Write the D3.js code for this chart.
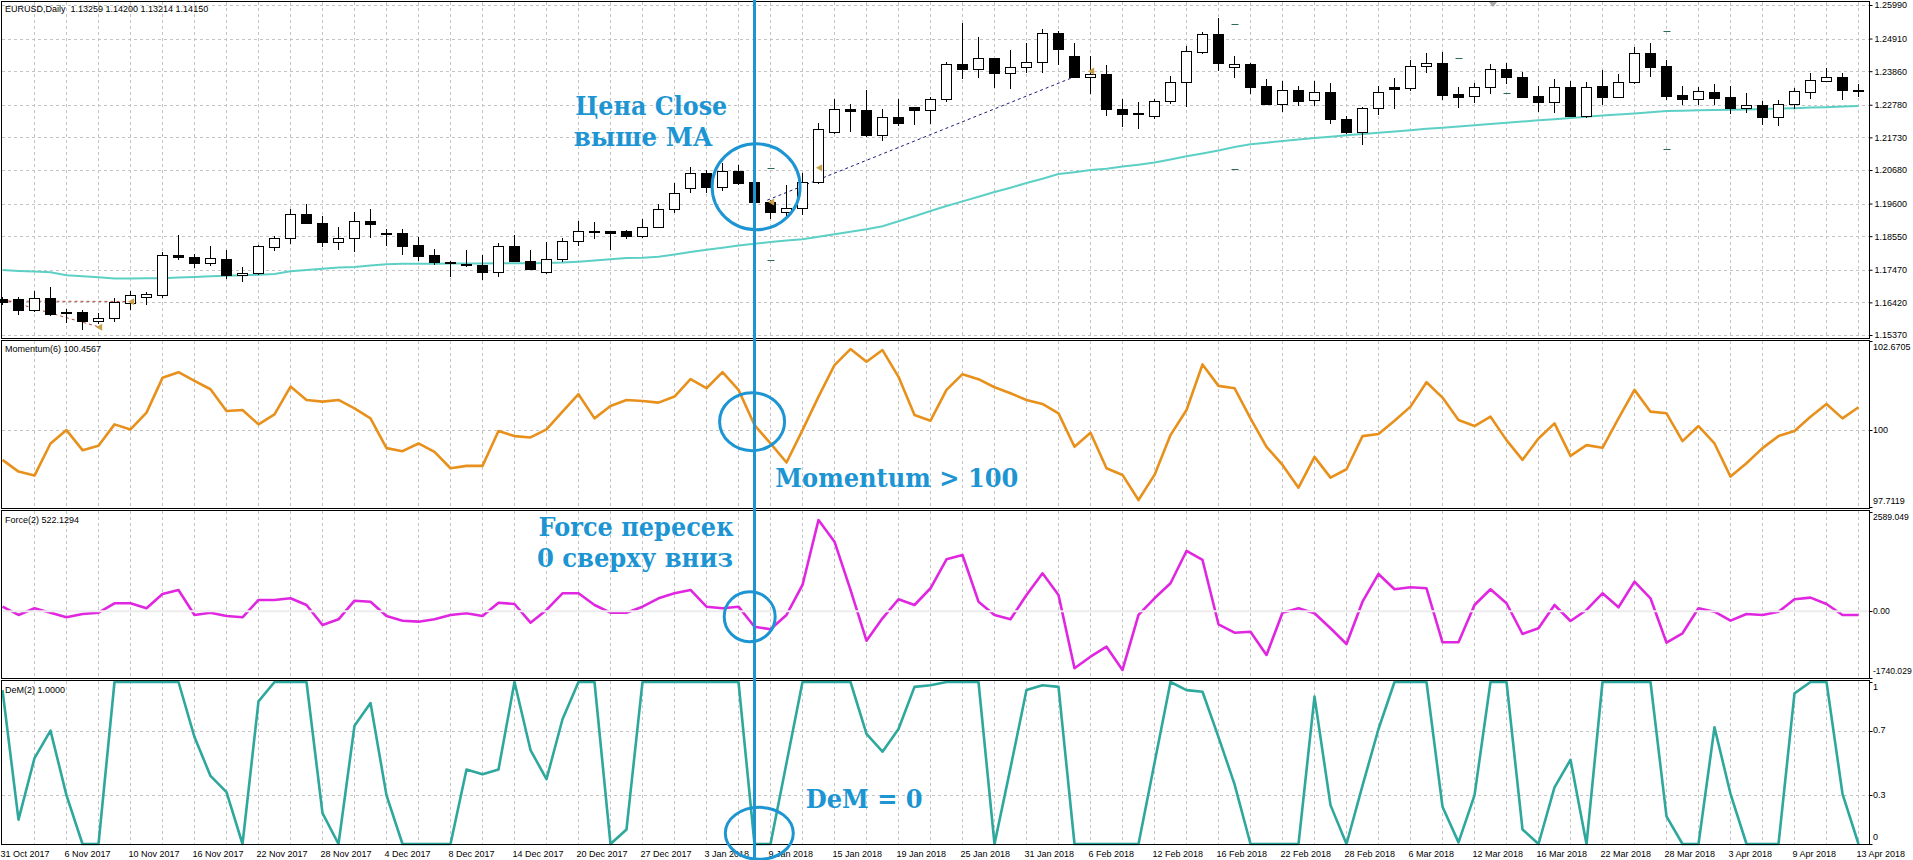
<!DOCTYPE html>
<html>
<head>
<meta charset="utf-8">
<script src="https://cdn.jsdelivr.net/npm/d3@7/dist/d3.min.js"></script>
<style>
    body { margin: 0; background: #fff; }
    svg text { font-family: "Liberation Sans", Arial, sans-serif; font-size: 9px; fill: #000; }
    .grid { stroke: #c4c4c4; stroke-dasharray: 3, 3; stroke-width: 1; shape-rendering: crispEdges; }
    .frame { fill: none; stroke: #000; stroke-width: 1; shape-rendering: crispEdges; }
    .note { font-family: "DejaVu Serif", serif; font-weight: bold; font-size: 26px; fill: #1d95d2; }
    .note-shape { fill: none; stroke: #1d95d2; stroke-width: 3; }
</style>
</head>
<body>
<div id="chart"></div>
<script>
const dateLabels = ["31 Oct 2017", "6 Nov 2017", "10 Nov 2017", "16 Nov 2017", "22 Nov 2017", "28 Nov 2017",
    "4 Dec 2017", "8 Dec 2017", "14 Dec 2017", "20 Dec 2017", "27 Dec 2017", "3 Jan 2018", "9 Jan 2018",
    "15 Jan 2018", "19 Jan 2018", "25 Jan 2018", "31 Jan 2018", "6 Feb 2018", "12 Feb 2018", "16 Feb 2018",
    "22 Feb 2018", "28 Feb 2018", "6 Mar 2018", "12 Mar 2018", "16 Mar 2018", "22 Mar 2018", "28 Mar 2018",
    "3 Apr 2018", "9 Apr 2018", "13 Apr 2018"];
const barsPerLabel = 4;

const open = [1.1652, 1.1652, 1.1617, 1.1655, 1.1610, 1.1610, 1.1583, 1.1593, 1.1640, 1.1658,
    1.1665, 1.1796, 1.1788, 1.1769, 1.1783, 1.1729, 1.1737, 1.1821, 1.1848, 1.1925,
    1.1896, 1.1835, 1.1848, 1.1904, 1.1864, 1.1864, 1.1826, 1.1794, 1.1772, 1.1767,
    1.1762, 1.1740, 1.1824, 1.1776, 1.1740, 1.1780, 1.1839, 1.1872, 1.1871, 1.1871,
    1.1856, 1.1885, 1.1941, 1.2009, 1.2057, 1.2014, 1.2065, 1.2028, 1.1966, 1.1933,
    1.1947, 1.2030, 1.2191, 1.2265, 1.2261, 1.2180, 1.2237, 1.2270, 1.2261, 1.2296,
    1.2409, 1.2392, 1.2427, 1.2381, 1.2400, 1.2414, 1.2508, 1.2435, 1.2366, 1.2377,
    1.2263, 1.2249, 1.2242, 1.2290, 1.2350, 1.2449, 1.2505, 1.2400, 1.2409, 1.2338,
    1.2282, 1.2327, 1.2293, 1.2318, 1.2232, 1.2191, 1.2266, 1.2334, 1.2333, 1.2403,
    1.2411, 1.2311, 1.2307, 1.2334, 1.2392, 1.2366, 1.2306, 1.2286, 1.2334, 1.2242,
    1.2338, 1.2304, 1.2350, 1.2443, 1.2402, 1.2309, 1.2298, 1.2318, 1.2302, 1.2268,
    1.2276, 1.2239, 1.2279, 1.2318, 1.2353, 1.2366, 1.2326];
const high = [1.1660, 1.1660, 1.1678, 1.1692, 1.1622, 1.1617, 1.1608, 1.1655, 1.1678, 1.1676,
    1.1805, 1.1860, 1.1799, 1.1823, 1.1810, 1.1756, 1.1826, 1.1855, 1.1944, 1.1960,
    1.1920, 1.1883, 1.1933, 1.1941, 1.1877, 1.1877, 1.1851, 1.1815, 1.1776, 1.1812,
    1.1794, 1.1832, 1.1860, 1.1812, 1.1837, 1.1848, 1.1903, 1.1901, 1.1871, 1.1874,
    1.1910, 1.1958, 1.2027, 1.2078, 1.2068, 1.2089, 1.2084, 1.2035, 1.1973, 1.2019,
    1.2057, 1.2218, 1.2295, 1.2282, 1.2325, 1.2263, 1.2295, 1.2270, 1.2304, 1.2416,
    1.2540, 1.2495, 1.2427, 1.2454, 1.2477, 1.2521, 1.2516, 1.2476, 1.2435, 1.2406,
    1.2295, 1.2286, 1.2298, 1.2370, 1.2467, 1.2511, 1.2556, 1.2435, 1.2413, 1.2360,
    1.2354, 1.2338, 1.2354, 1.2347, 1.2241, 1.2271, 1.2338, 1.2363, 1.2422, 1.2445,
    1.2449, 1.2334, 1.2347, 1.2409, 1.2411, 1.2384, 1.2338, 1.2361, 1.2354, 1.2350,
    1.2390, 1.2377, 1.2465, 1.2476, 1.2422, 1.2338, 1.2334, 1.2345, 1.2338, 1.2315,
    1.2290, 1.2293, 1.2331, 1.2381, 1.2395, 1.2381, 1.2345];
const low = [1.1638, 1.1606, 1.1615, 1.1601, 1.1580, 1.1555, 1.1576, 1.1583, 1.1622, 1.1636,
    1.1658, 1.1783, 1.1756, 1.1762, 1.1719, 1.1711, 1.1733, 1.1810, 1.1834, 1.1896,
    1.1823, 1.1815, 1.1808, 1.1851, 1.1828, 1.1799, 1.1778, 1.1767, 1.1726, 1.1759,
    1.1716, 1.1726, 1.1776, 1.1748, 1.1737, 1.1776, 1.1828, 1.1848, 1.1815, 1.1848,
    1.1853, 1.1885, 1.1933, 1.1998, 1.1998, 1.2005, 1.2022, 1.1961, 1.1912, 1.1920,
    1.1928, 1.2027, 1.2186, 1.2194, 1.2177, 1.2166, 1.2213, 1.2216, 1.2220, 1.2291,
    1.2363, 1.2368, 1.2334, 1.2333, 1.2384, 1.2384, 1.2408, 1.2366, 1.2315, 1.2245,
    1.2209, 1.2204, 1.2234, 1.2284, 1.2274, 1.2443, 1.2390, 1.2368, 1.2317, 1.2280,
    1.2258, 1.2277, 1.2277, 1.2220, 1.2188, 1.2151, 1.2248, 1.2268, 1.2327, 1.2384,
    1.2296, 1.2271, 1.2288, 1.2315, 1.2347, 1.2302, 1.2259, 1.2255, 1.2242, 1.2239,
    1.2282, 1.2304, 1.2349, 1.2370, 1.2296, 1.2280, 1.2282, 1.2280, 1.2253, 1.2255,
    1.2216, 1.2213, 1.2266, 1.2300, 1.2353, 1.2296, 1.2306];
const close = [1.1644, 1.1619, 1.1655, 1.1606, 1.1609, 1.1583, 1.1593, 1.1642, 1.1665, 1.1668,
    1.1796, 1.1788, 1.1769, 1.1786, 1.1729, 1.1738, 1.1823, 1.1848, 1.1928, 1.1896,
    1.1837, 1.1848, 1.1904, 1.1893, 1.1862, 1.1824, 1.1792, 1.1772, 1.1771, 1.1762,
    1.1740, 1.1824, 1.1776, 1.1751, 1.1780, 1.1839, 1.1871, 1.1873, 1.1864, 1.1856,
    1.1885, 1.1941, 1.1994, 1.2057, 1.2014, 1.2065, 1.2027, 1.1966, 1.1933, 1.1947,
    1.2030, 1.2199, 1.2263, 1.2259, 1.2180, 1.2237, 1.2220, 1.2261, 1.2298, 1.2409,
    1.2392, 1.2427, 1.2381, 1.2400, 1.2414, 1.2508, 1.2456, 1.2366, 1.2377, 1.2263,
    1.2247, 1.2250, 1.2290, 1.2350, 1.2451, 1.2505, 1.2411, 1.2409, 1.2336, 1.2280,
    1.2327, 1.2291, 1.2318, 1.2231, 1.2191, 1.2266, 1.2318, 1.2328, 1.2403, 1.2413,
    1.2309, 1.2304, 1.2334, 1.2392, 1.2368, 1.2304, 1.2288, 1.2334, 1.2242, 1.2336,
    1.2304, 1.2350, 1.2443, 1.2400, 1.2307, 1.2297, 1.2321, 1.2300, 1.2268, 1.2276,
    1.2239, 1.2279, 1.2322, 1.2357, 1.2366, 1.2327, 1.2325];
const movingAverage = [1.1746, 1.1743, 1.1741, 1.1739, 1.1729, 1.1726, 1.1723, 1.1719, 1.1719, 1.1720,
    1.1720, 1.1722, 1.1724, 1.1726, 1.1728, 1.1729, 1.1731, 1.1733, 1.1742, 1.1746,
    1.1750, 1.1754, 1.1756, 1.1761, 1.1765, 1.1766, 1.1766, 1.1766, 1.1767, 1.1767,
    1.1767, 1.1768, 1.1768, 1.1768, 1.1769, 1.1770, 1.1773, 1.1777, 1.1781, 1.1785,
    1.1786, 1.1789, 1.1796, 1.1804, 1.1811, 1.1818, 1.1825, 1.1831, 1.1836, 1.1841,
    1.1845, 1.1853, 1.1861, 1.1869, 1.1877, 1.1887, 1.1903, 1.1919, 1.1936, 1.1952,
    1.1967, 1.1982, 1.1997, 1.2011, 1.2026, 1.2040, 1.2055, 1.2061, 1.2068, 1.2072,
    1.2079, 1.2085, 1.2092, 1.2102, 1.2112, 1.2121, 1.2131, 1.2142, 1.2151, 1.2156,
    1.2161, 1.2166, 1.2171, 1.2175, 1.2180, 1.2184, 1.2188, 1.2192, 1.2196, 1.2201,
    1.2204, 1.2208, 1.2212, 1.2216, 1.2220, 1.2224, 1.2228, 1.2231, 1.2235, 1.2239,
    1.2243, 1.2247, 1.2250, 1.2254, 1.2258, 1.2259, 1.2260, 1.2261, 1.2262, 1.2263,
    1.2264, 1.2266, 1.2267, 1.2269, 1.2270, 1.2272, 1.2274];
const momentum = [99.12, 98.77, 98.65, 99.61, 100.01, 99.41, 99.54, 100.18, 100.03, 100.53,
    101.57, 101.74, 101.48, 101.23, 100.58, 100.61, 100.18, 100.48, 101.31, 100.91,
    100.86, 100.91, 100.66, 100.36, 99.47, 99.38, 99.61, 99.36, 98.87, 98.94,
    98.94, 99.98, 99.83, 99.79, 100.03, 100.56, 101.08, 100.36, 100.73, 100.91,
    100.88, 100.83, 101.01, 101.53, 101.26, 101.74, 101.21, 100.16, 99.61, 99.04,
    100.01, 101.01, 101.95, 102.43, 102.05, 102.40, 101.60, 100.46, 100.29, 101.21,
    101.68, 101.53, 101.29, 101.11, 100.91, 100.79, 100.51, 99.51, 99.93, 98.87,
    98.67, 97.92, 98.67, 99.86, 100.61, 101.97, 101.33, 101.26, 100.36, 99.51,
    98.97, 98.29, 99.21, 98.59, 98.84, 99.83, 99.89, 100.29, 100.71, 101.44,
    100.98, 100.31, 100.13, 100.41, 99.71, 99.12, 99.76, 100.21, 99.24, 99.56,
    99.48, 100.36, 101.21, 100.56, 100.51, 99.68, 100.13, 99.61, 98.62, 99.02,
    99.47, 99.83, 99.98, 100.41, 100.79, 100.36, 100.69];
const force = [120, -96, 78, -37, -156, -70, -37, 209, 209, 78,
    451, 556, -96, -37, -123, -156, 295, 295, 339, 164,
    -357, -209, 276, 250, -123, -245, -271, -209, -96, -52,
    -123, 224, 190, -297, 34, 469, 469, 164, -37, -37,
    120, 339, 469, 556, 120, 78, 120, -402, -469, -96,
    686, 2381, 1815, 556, -767, -183, 313, 164, 600, 1356,
    1468, 250, -96, -209, 425, 991, 425, -1487, -1184, -923,
    -1531, -96, 339, 730, 1573, 1338, -339, -558, -532, -1140,
    -37, 78, -52, -443, -853, 250, 973, 574, 626, 600,
    -808, -808, 164, 574, 209, -592, -443, 164, -253, 34,
    469, 104, 772, 339, -819, -574, 78, -10, -245, -70,
    -96, -10, 313, 355, 190, -96, -96];
const demarker = [0.95, 0.15, 0.53, 0.70, 0.30, 0, 0, 1, 1, 1,
    1, 1, 0.66, 0.42, 0.32, 0, 0.88, 1, 1, 1,
    0.19, 0, 0.73, 0.87, 0.30, 0, 0, 0, 0, 0.46,
    0.43, 0.46, 1, 0.58, 0.40, 0.77, 1, 1, 0, 0.09,
    1, 1, 1, 1, 1, 1, 1, 0, 0, 0.50,
    1, 1, 1, 1, 0.68, 0.57, 0.71, 0.97, 0.98, 1,
    1, 1, 0, 0.47, 0.95, 0.98, 0.97, 0, 0, 0,
    0, 0, 0.50, 1, 0.95, 0.94, 0.66, 0.37, 0, 0,
    0, 0, 0.91, 0.24, 0, 0.36, 0.71, 1, 1, 1,
    0.23, 0.01, 0.30, 1, 1, 0.09, 0, 0.35, 0.52, 0,
    1, 1, 1, 1, 0.17, 0, 0, 0.72, 0.31, 0,
    0, 0, 0.93, 1, 1, 0.31, 0];

const priceTicks = [1.2599, 1.2491, 1.2386, 1.2278, 1.2173, 1.2068, 1.1960, 1.1855, 1.1747, 1.1642, 1.1537];
const momentumTicks = [102.6705, 100, 97.7119];
const momentumTickLabels = ["102.6705", "100", "97.7119"];
const forceTicks = [2589.049, 0, -1740.029];
const forceTickLabels = ["2589.049", "0.00", "-1740.029"];
const demTicks = [1, 0.7, 0.3, 0];
const demTickLabels = ["1", "0.7", "0.3", "0"];

// trade history marks left on the chart
const tradeLinesFrom = [[0, 1.1646], [0, 1.1652], [47.8, 1.1971]];
const tradeLinesTo = [[8.1, 1.1645], [6.1, 1.1562], [67.0, 1.2368]];
const tradeArrows = [[8.1, 1.1644], [6.1, 1.1562], [51.1, 1.2075], [48.1, 1.1965], [68.1, 1.2386]];
const levelMarks = [[48, 1.2075], [48, 1.1778], [77, 1.2537], [77, 1.2070], [91, 1.2427], [94, 1.2315], [104, 1.2515], [104, 1.2134]];

const titleText = "EURUSD,Daily  1.13259 1.14200 1.13214 1.14150";
const momentumTitle = "Momentum(6) 100.4567";
const forceTitle = "Force(2) 522.1294";
const demTitle = "DeM(2) 1.0000";
const signalBar = 47;

function renderChart() {
    const svg = d3.select("#chart").append("svg")
        .attr("width", 1913)
        .attr("height", 860);

    const axisX = 1869.5;
    const panes = {
        price: { top: 1.5, bottom: 338.5 },
        mom: { top: 340.5, bottom: 508.5 },
        force: { top: 510.5, bottom: 678.5 },
        dem: { top: 680.5, bottom: 844.5 }
    };

    const x = d3.scaleLinear().domain([0, open.length - 1]).range([2.5, 1858.5]);
    const yPrice = d3.scaleLinear().domain([1.1537, 1.2599]).range([335, 5]);
    const yMom = d3.scaleLinear().domain([97.7119, 102.6705]).range([507, 341]);
    const yForce = d3.scaleLinear().domain([-1740.029, 2589.049]).range([678, 512]);
    const yDem = d3.scaleLinear().domain([0, 1]).range([844, 682]);
    const crisp = v => Math.round(v) + 0.5;

    // vertical grid, every 2 bars
    Object.values(panes).forEach(function (p) {
        svg.append("g").selectAll("line")
            .data(d3.range(2, open.length, 2))
            .join("line")
            .attr("class", "grid")
            .attr("x1", d => x(d)).attr("x2", d => x(d))
            .attr("y1", p.top).attr("y2", p.bottom);
    });

    // horizontal grid
    function hGrid(values, scale) {
        svg.append("g").selectAll("line")
            .data(values)
            .join("line")
            .attr("class", "grid")
            .attr("x1", 2).attr("x2", axisX)
            .attr("y1", d => crisp(scale(d))).attr("y2", d => crisp(scale(d)));
    }
    hGrid(priceTicks, yPrice);
    hGrid([100], yMom);
    hGrid([0.7, 0.3], yDem);

    // moving average
    svg.append("path")
        .datum(movingAverage)
        .attr("fill", "none")
        .attr("stroke", "#5dd0c5")
        .attr("stroke-width", 2)
        .attr("d", d3.line().x((d, i) => x(i)).y(d => yPrice(d)));

    // trade history lines and arrows
    const tradeColors = ["#b5473a", "#b5473a", "#1b1b7a"];
    svg.append("g").selectAll("line")
        .data(tradeLinesFrom)
        .join("line")
        .attr("x1", d => x(d[0])).attr("y1", d => yPrice(d[1]))
        .attr("x2", (d, i) => x(tradeLinesTo[i][0])).attr("y2", (d, i) => yPrice(tradeLinesTo[i][1]))
        .attr("stroke", (d, i) => tradeColors[i])
        .attr("stroke-dasharray", "3,3");

    // candles
    const bars = d3.range(open.length).map(i => ({ i: i, o: open[i], h: high[i], l: low[i], c: close[i] }));
    svg.append("g").selectAll("line")
        .data(bars)
        .join("line")
        .attr("x1", d => x(d.i)).attr("x2", d => x(d.i))
        .attr("y1", d => Math.round(yPrice(d.h))).attr("y2", d => Math.round(yPrice(d.l)) + 1)
        .attr("stroke", "#000");
    svg.append("g").selectAll("rect")
        .data(bars)
        .join("rect")
        .attr("x", d => x(d.i) - 5)
        .attr("y", d => crisp(yPrice(Math.max(d.o, d.c))))
        .attr("width", 10)
        .attr("height", d => Math.max(crisp(yPrice(Math.min(d.o, d.c))) - crisp(yPrice(Math.max(d.o, d.c))), 1))
        .attr("fill", d => d.c > d.o ? "#fff" : "#000")
        .attr("stroke", "#000")
        .attr("shape-rendering", "crispEdges");

    svg.append("g").selectAll("path")
        .data(tradeArrows)
        .join("path")
        .attr("d", d3.symbol().type(d3.symbolTriangle).size(22))
        .attr("transform", d => `translate(${x(d[0])}, ${yPrice(d[1])}) rotate(-90)`)
        .attr("fill", "#c9a24a");

    svg.append("g").selectAll("line")
        .data(levelMarks)
        .join("line")
        .attr("x1", d => x(d[0]) - 3).attr("x2", d => x(d[0]) + 4)
        .attr("y1", d => crisp(yPrice(d[1]))).attr("y2", d => crisp(yPrice(d[1])))
        .attr("stroke", "#2e6b4f");

    // chart shift marker
    svg.append("path")
        .attr("d", "M1489,2 L1497,2 L1493,7 Z")
        .attr("fill", "#a8a8a8");

    // indicator lines
    function indicator(values, scale, color) {
        svg.append("path")
            .datum(values)
            .attr("fill", "none")
            .attr("stroke", color)
            .attr("stroke-width", 2.6)
            .attr("stroke-linejoin", "round")
            .attr("d", d3.line().x((d, i) => x(i)).y(d => scale(d)));
    }
    indicator(momentum, yMom, "#e8901c");
    indicator(force, yForce, "#e026e0");
    indicator(demarker, yDem, "#2ea79c");

    // force zero level over the line
    svg.append("line")
        .attr("x1", 2).attr("x2", axisX)
        .attr("y1", yForce(0)).attr("y2", yForce(0))
        .attr("stroke", "#ececec")
        .attr("stroke-width", 2);

    // pane frames
    Object.values(panes).forEach(function (p) {
        svg.append("rect")
            .attr("class", "frame")
            .attr("x", 1.5).attr("y", p.top)
            .attr("width", axisX - 1.5).attr("height", p.bottom - p.top);
    });

    // price axis
    svg.append("g")
        .attr("transform", `translate(${axisX}, 0)`)
        .attr("font-size", 9)
        .attr("font-family", "Liberation Sans, Arial, sans-serif")
        .call(d3.axisRight(yPrice).tickValues(priceTicks).tickFormat(d3.format(".5f")).tickSize(3).tickPadding(2))
        .call(g => g.select(".domain").remove());

    // indicator axes, labels pushed inside the pane at the ends
    function sideLabels(values, labels, scale, pane, size) {
        const g = svg.append("g");
        g.selectAll("line")
            .data(values)
            .join("line")
            .attr("x1", axisX).attr("x2", axisX + 3)
            .attr("y1", d => crisp(scale(d))).attr("y2", d => crisp(scale(d)))
            .attr("stroke", "#000");
        g.selectAll("text")
            .data(values)
            .join("text")
            .attr("x", axisX + 3.5)
            .attr("y", d => Math.min(Math.max(scale(d), pane.top + 7), pane.bottom - 7))
            .attr("dy", "0.32em")
            .style("font-size", size + "px")
            .text((d, i) => labels[i]);
    }
    sideLabels(momentumTicks, momentumTickLabels, yMom, panes.mom, 9);
    sideLabels(forceTicks, forceTickLabels, yForce, panes.force, 8.6);
    sideLabels(demTicks, demTickLabels, yDem, panes.dem, 9);

    // date axis
    svg.append("g").selectAll("text")
        .data(dateLabels)
        .join("text")
        .attr("x", (d, k) => x(k * barsPerLabel) - 2)
        .attr("y", 857)
        .text(d => d);

    // pane titles
    svg.append("text").attr("x", 5).attr("y", 12).style("white-space", "pre").text(titleText);
    svg.append("text").attr("x", 5).attr("y", 352).text(momentumTitle);
    svg.append("text").attr("x", 5).attr("y", 523).text(forceTitle);
    svg.append("text").attr("x", 5).attr("y", 692.5).text(demTitle);

    renderNotes(svg, x, yPrice, yMom, yForce, yDem);
}

function renderNotes(svg, x, yPrice, yMom, yForce, yDem) {
    // signal bar marker line
    svg.append("line")
        .attr("x1", x(signalBar)).attr("x2", x(signalBar))
        .attr("y1", 0).attr("y2", 860)
        .attr("stroke", "#1d95d2")
        .attr("stroke-width", 3);

    const rings = [
        { cx: x(signalBar + 0.1), cy: yPrice(1.2014), rx: 44, ry: 43 },
        { cx: x(signalBar - 0.15), cy: yMom(100.26), rx: 32.5, ry: 29 },
        { cx: x(signalBar - 0.3), cy: yForce(-140), rx: 25.5, ry: 25 },
        { cx: x(signalBar + 0.3), cy: yDem(0.066), rx: 34, ry: 26 }
    ];
    svg.append("g").selectAll("ellipse")
        .data(rings)
        .join("ellipse")
        .attr("class", "note-shape")
        .attr("cx", d => d.cx).attr("cy", d => d.cy)
        .attr("rx", d => d.rx).attr("ry", d => d.ry);

    const notes = [
        { text: "Цена Close", x: x(35.8), y: yPrice(1.2245), w: 152 },
        { text: "выше МА", x: x(35.7), y: yPrice(1.2146), w: 139 },
        { text: "Momentum > 100", x: x(48.3), y: yMom(98.32), w: 243 },
        { text: "Force пересек", x: x(33.5), y: yForce(1964), w: 195 },
        { text: "0 сверху вниз", x: x(33.4), y: yForce(1163), w: 196 },
        { text: "DeM = 0", x: x(50.2), y: yDem(0.224), w: 117 }
    ];
    svg.append("g").selectAll("text")
        .data(notes)
        .join("text")
        .attr("class", "note")
        .attr("x", d => d.x).attr("y", d => d.y)
        .attr("textLength", d => d.w)
        .attr("lengthAdjust", "spacingAndGlyphs")
        .text(d => d.text);
}

renderChart();
</script>
</body>
</html>
